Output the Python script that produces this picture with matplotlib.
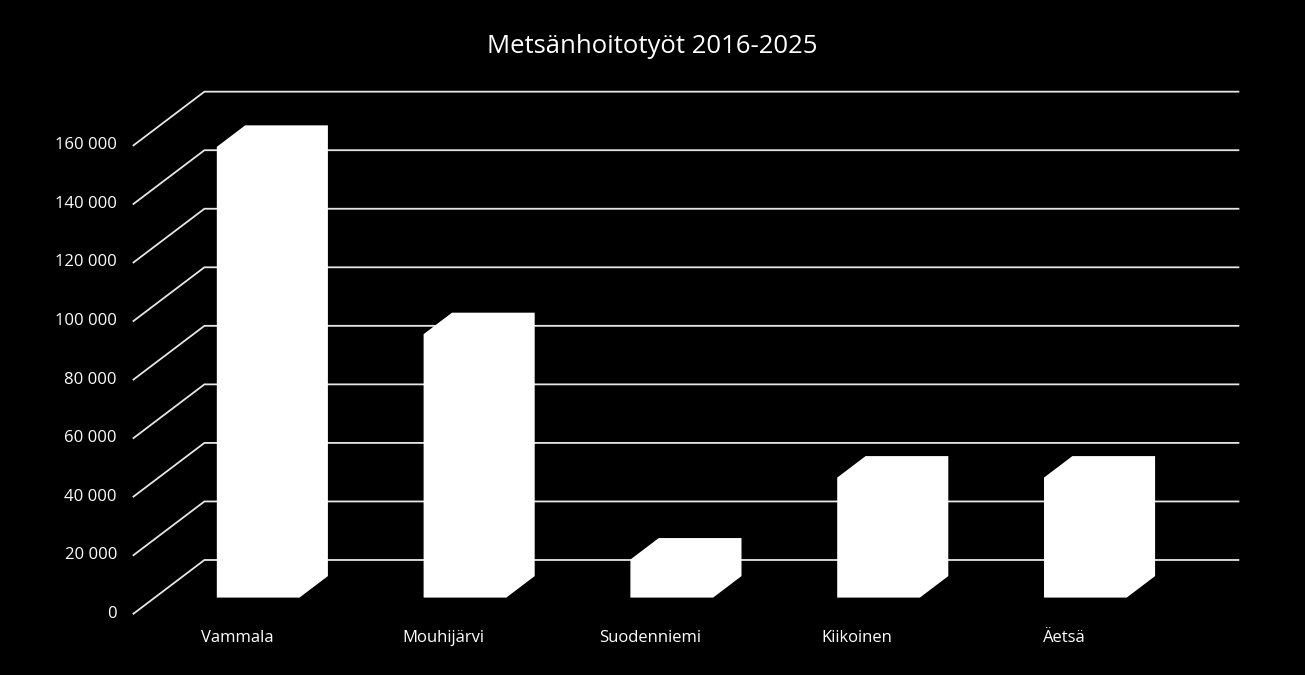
import numpy as np
import matplotlib.pyplot as plt
from matplotlib.patches import Polygon

# Data
categories = ['Vammala', 'Mouhijärvi', 'Suodenniemi', 'Kiikoinen', 'Äetsä']
values = [154000, 90000, 13000, 41000, 41000]
ticks = np.arange(0, 160001, 20000)
tick_labels = ['0', '20 000', '40 000', '60 000', '80 000', '100 000',
               '120 000', '140 000', '160 000']
title = 'Metsänhoitotyöt 2016-2025'

# Oblique "3D" look
DX = 0.343      # depth offset in category units
DY = 18350      # depth offset in value units
bar_w = 0.4     # bar width (fraction of category)
d0, d1 = 0.3, 0.7  # bar depth range (fraction of depth)

plt.rcParams['font.family'] = ['Open Sans', 'DejaVu Sans']

fig = plt.figure(figsize=(13.05, 6.75), dpi=100, facecolor='black')
ax = fig.add_axes([0, 0, 1, 1], facecolor='black')
ax.set_xlim(-0.6455, 5.665)
ax.set_ylim(-20943, 209670)
ax.axis('off')

line_col = '#e6e6e6'
n = len(categories)

# wall gridlines: diagonal on the left side, horizontal on the back
for t in ticks:
    ax.plot([0, DX, n + DX], [t, t + DY, t + DY], color=line_col, lw=1.3,
            zorder=1, solid_joinstyle='miter')

# bars, drawn as one white outline (front + top + side all the same colour)
for i, v in enumerate(values):
    xl = i + 0.5 - bar_w / 2
    xr = i + 0.5 + bar_w / 2
    fx0, fy0 = d0 * DX, d0 * DY
    fx1, fy1 = d1 * DX, d1 * DY
    shape = [(xl + fx0, fy0), (xr + fx0, fy0), (xr + fx1, fy1),
             (xr + fx1, v + fy1), (xl + fx1, v + fy1), (xl + fx0, v + fy0)]
    ax.add_patch(Polygon(shape, closed=True, facecolor='white',
                         edgecolor='none', zorder=3))

# y tick labels
for t, lab in zip(ticks, tick_labels):
    ax.text(-0.08, t, lab, color='white', fontsize=12, ha='right', va='center')

# category labels
for i, c in enumerate(categories):
    ax.text(i + 0.5, -8300, c, color='white', fontsize=12, ha='center', va='center')

fig.text(0.5, 1 - 52.7 / 675, title, color='white', fontsize=18.5,
         ha='center', va='baseline')

fig.savefig('out.png', dpi=100, facecolor='black')
